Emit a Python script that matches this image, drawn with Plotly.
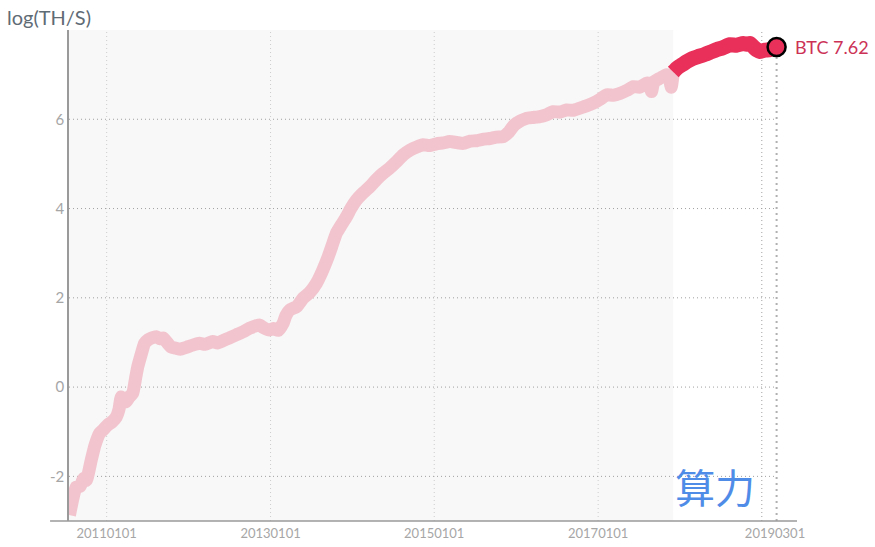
import plotly.graph_objects as go

# ---- data ----
hist_dates = ["2010-07-19", "2010-08-01", "2010-08-18", "2010-09-05", "2010-09-20", "2010-10-02",
              "2010-10-24", "2010-11-10", "2010-12-01", "2010-12-18", "2011-01-05", "2011-01-25",
              "2011-02-13", "2011-02-25", "2011-03-07", "2011-03-18", "2011-03-29", "2011-04-12",
              "2011-04-27", "2011-05-10", "2011-05-20", "2011-06-05", "2011-06-19", "2011-07-05",
              "2011-07-20", "2011-08-10", "2011-08-28", "2011-09-10", "2011-09-24", "2011-10-15",
              "2011-11-07", "2011-11-25", "2011-12-22", "2012-01-20", "2012-02-19", "2012-03-15",
              "2012-04-18", "2012-05-10", "2012-06-02", "2012-07-01", "2012-08-01", "2012-09-01",
              "2012-09-30", "2012-10-20", "2012-11-13", "2012-12-01", "2012-12-28", "2013-01-15",
              "2013-02-04", "2013-02-26", "2013-03-10", "2013-03-28", "2013-04-27", "2013-05-26",
              "2013-06-25", "2013-07-25", "2013-08-20", "2013-09-15", "2013-10-01", "2013-10-22",
              "2013-11-15", "2013-12-06", "2013-12-25", "2014-01-19", "2014-02-20", "2014-03-20",
              "2014-04-20", "2014-05-18", "2014-06-15", "2014-07-17", "2014-08-15", "2014-09-15",
              "2014-10-15", "2014-11-13", "2014-12-10", "2015-01-11", "2015-02-10", "2015-03-11",
              "2015-04-10", "2015-05-10", "2015-06-10", "2015-07-09", "2015-08-05", "2015-09-06",
              "2015-10-05", "2015-11-04", "2015-12-01", "2015-12-20", "2016-01-03", "2016-02-16",
              "2016-03-15", "2016-04-16", "2016-05-15", "2016-06-14", "2016-07-15", "2016-08-13",
              "2016-09-10", "2016-10-11", "2016-11-10", "2016-12-10", "2017-01-10", "2017-02-09",
              "2017-03-10", "2017-04-09", "2017-05-10", "2017-06-08", "2017-07-05", "2017-08-06",
              "2017-08-16", "2017-08-27", "2017-09-07", "2017-10-04", "2017-11-02", "2017-11-12",
              "2017-11-23", "2017-12-02"]
hist_vals = [-2.87, -2.55, -2.24, -2.22, -2.05, -2.09,
             -1.64, -1.30, -1.03, -0.95, -0.85, -0.78,
             -0.67, -0.50, -0.22, -0.30, -0.33, -0.22,
             -0.14, 0.20, 0.46, 0.75, 0.98, 1.06,
             1.10, 1.13, 1.08, 1.10, 1.02, 0.90,
             0.87, 0.85, 0.89, 0.94, 0.98, 0.96,
             1.02, 0.99, 1.04, 1.10, 1.17, 1.24,
             1.32, 1.36, 1.39, 1.33, 1.28, 1.31,
             1.27, 1.43, 1.60, 1.73, 1.80, 1.99,
             2.12, 2.33, 2.60, 2.92, 3.15, 3.45,
             3.65, 3.82, 4.00, 4.19, 4.36, 4.49,
             4.66, 4.79, 4.90, 5.05, 5.20, 5.31,
             5.38, 5.43, 5.41, 5.45, 5.47, 5.50,
             5.48, 5.46, 5.51, 5.52, 5.55, 5.57,
             5.60, 5.61, 5.72, 5.85, 5.91, 6.02,
             6.04, 6.06, 6.10, 6.17, 6.16, 6.21,
             6.20, 6.25, 6.30, 6.36, 6.45, 6.55,
             6.54, 6.58, 6.65, 6.73, 6.72, 6.81,
             6.80, 6.62, 6.84, 6.92, 7.00, 6.98,
             6.72, 7.03]

recent_dates = ["2017-12-02", "2017-12-20", "2018-01-10", "2018-01-31", "2018-02-25", "2018-03-20",
                "2018-04-15", "2018-05-15", "2018-06-14", "2018-07-10", "2018-08-12", "2018-09-10",
                "2018-10-10", "2018-10-25", "2018-11-09", "2018-11-25", "2018-12-10", "2018-12-23",
                "2019-01-15", "2019-02-06", "2019-03-08"]
recent_vals = [7.06, 7.15, 7.22, 7.29, 7.36, 7.40,
               7.44, 7.50, 7.56, 7.60, 7.67, 7.66,
               7.70, 7.68, 7.70, 7.62, 7.55, 7.52,
               7.55, 7.56, 7.62]

y_ticks = [-2, 0, 2, 4, 6]
y_ticktext = ["-2", "0", "2", "4", "6"]
x_grid = ["2011-01-01", "2013-01-01", "2015-01-01", "2017-01-01", "2019-01-01"]
x_tickvals = ["2011-01-01", "2013-01-01", "2015-01-01", "2017-01-01", "2019-03-01"]
x_ticktext = ["20110101", "20130101", "20150101", "20170101", "20190301"]

x_range = ["2010-07-17", "2019-06-07"]
y_range = [-3, 8]
shade_end = "2017-12-02"
last_date = recent_dates[-1]
last_val = recent_vals[-1]

PINK = "#f2c4ce"
RED = "#e8305a"
GRID = "#a0a0a0"

fig = go.Figure()
fig.add_trace(go.Scatter(x=hist_dates, y=hist_vals, mode="lines",
                         line=dict(color=PINK, width=13, shape="spline", smoothing=0.5),
                         hoverinfo="skip", showlegend=False))
fig.add_trace(go.Scatter(x=recent_dates, y=recent_vals, mode="lines",
                         line=dict(color=RED, width=15, shape="spline", smoothing=0.5),
                         hoverinfo="skip", showlegend=False))
fig.add_trace(go.Scatter(x=[last_date], y=[last_val], mode="markers",
                         marker=dict(size=18, color=RED, line=dict(color="black", width=2.5)),
                         hoverinfo="skip", showlegend=False))

shapes = []
for d in x_grid:
    shapes.append(dict(type="line", xref="x", yref="paper", x0=d, x1=d, y0=0, y1=1,
                       line=dict(color=GRID, width=1, dash="1px,3px"), layer="below"))
for v in y_ticks:
    shapes.append(dict(type="line", xref="x", yref="y", x0=x_range[0], x1=last_date, y0=v, y1=v,
                       line=dict(color=GRID, width=1, dash="1px,3px"), layer="below"))
# shaded "history" region (drawn over the grid to lighten it)
shapes.append(dict(type="rect", xref="x", yref="paper", x0=x_range[0], x1=shade_end, y0=0, y1=1,
                   fillcolor="rgba(242,242,242,0.55)", line=dict(width=0), layer="below"))
# marker drop line
shapes.append(dict(type="line", xref="x", yref="y", x0=last_date, x1=last_date, y0=y_range[0], y1=last_val,
                   line=dict(color="#b0b0b0", width=2, dash="2px,4px"), layer="below"))
# x axis baseline extending left of the y axis
shapes.append(dict(type="line", xref="paper", yref="paper", x0=-0.026, x1=1, y0=0, y1=0,
                   line=dict(color="#9a9a9a", width=1.5), layer="above"))

annotations = [
    dict(text="log(TH/S)", xref="paper", yref="paper", x=-0.088, y=1.0, xanchor="left", yanchor="bottom",
         yshift=-1, showarrow=False, font=dict(family="Lato", size=20, color="#5f6b75")),
    dict(text=f"BTC {last_val:.2f}", xref="x", yref="y", x=last_date, y=last_val, xanchor="left",
         yanchor="middle", xshift=16, showarrow=False, font=dict(family="Lato", size=18, color="#cc3256")),
    dict(text="算力", xref="x", yref="paper", x=shade_end, y=0.0, xanchor="left", yanchor="bottom",
         yshift=4, showarrow=False, font=dict(family="Noto Sans CJK TC", size=40, color="#4f8ce8")),
]

fig.update_layout(
    width=875, height=547,
    margin=dict(l=69, r=78, t=30, b=26),
    paper_bgcolor="white", plot_bgcolor="white",
    shapes=shapes, annotations=annotations,
    font=dict(family="Lato", color="#a6a6a6", size=13),
    xaxis=dict(type="date", range=x_range, showgrid=False, zeroline=False, showline=False,
               automargin=False, tickmode="array", tickvals=x_tickvals, ticktext=x_ticktext,
               ticks="", ticklabelstandoff=3,
               tickfont=dict(family="Lato", size=13, color="#a6a6a6")),
    yaxis=dict(range=y_range, showgrid=False, zeroline=False, showline=True, linecolor="#9a9a9a",
               automargin=False, linewidth=1.5, tickmode="array", tickvals=y_ticks,
               ticktext=y_ticktext, ticks="",
               tickfont=dict(family="Lato", size=15, color="#a6a6a6")),
)

fig.write_html("out.html", config={"displayModeBar": False},
               post_script="document.body.style.margin='0';")
